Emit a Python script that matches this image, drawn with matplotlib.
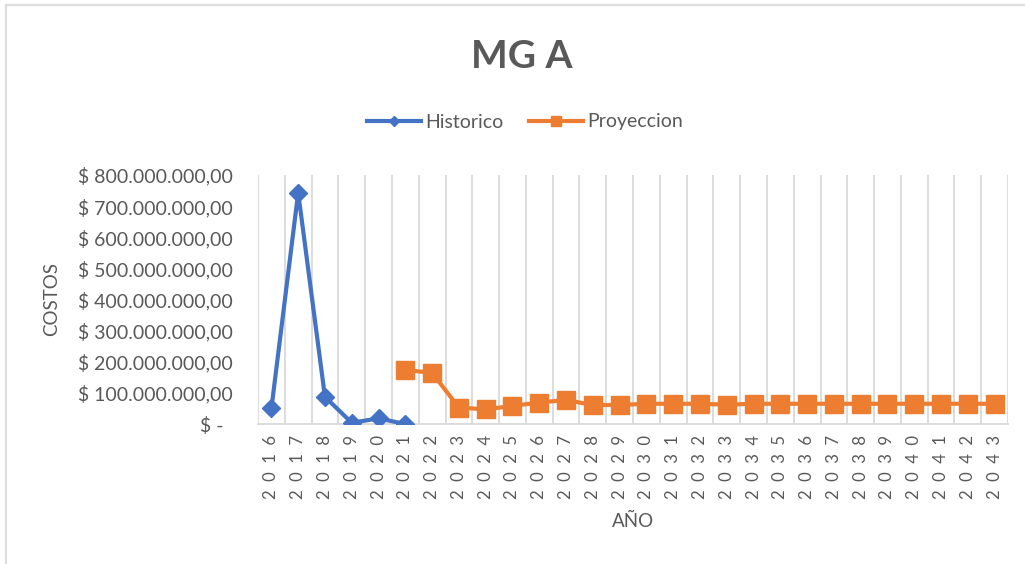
import matplotlib
matplotlib.use("Agg")
import matplotlib.pyplot as plt
from matplotlib.patches import Rectangle
from matplotlib.ticker import FuncFormatter, MultipleLocator

# Years on the category axis
years = list(range(2016, 2044))

# Historical costs (2016-2021)
historico = [50e6, 743e6, 87e6, 4e6, 18e6, 0.0]

# Projected costs (2021-2043)
proyeccion = [174e6, 164e6, 53e6, 47e6, 58e6, 69e6, 77e6, 61e6, 61e6, 65e6,
              65e6, 65e6, 62e6, 65e6, 65e6, 65e6, 65e6, 65e6, 65e6, 65e6,
              65e6, 65e6, 65e6]

TEXT = "#595959"
GRID = "#D9D9D9"
BLUE = "#4472C4"
ORANGE = "#ED7D31"

plt.rcParams["font.family"] = ["Lato", "DejaVu Sans"]

fig = plt.figure(figsize=(10.25, 5.64), dpi=100)
ax = fig.add_axes([258 / 1025, 1 - 424 / 564, 750 / 1025, 249 / 564])

x_hist = list(range(len(historico)))
x_proy = [years.index(2021) + i for i in range(len(proyeccion))]

ax.plot(x_hist, historico, color=BLUE, lw=3.0, marker="D", ms=9,
        solid_joinstyle="round", label="Historico", zorder=3)
ax.plot(x_proy, proyeccion, color=ORANGE, lw=3.0, marker="s", ms=12.5,
        solid_joinstyle="round", label="Proyeccion", zorder=3)

ax.set_xlim(-0.5, len(years) - 0.5)
ax.set_ylim(0, 800e6)
ax.yaxis.set_major_locator(MultipleLocator(100e6))


def money(v, _pos):
    if abs(v) < 1:
        return "$ -  "
    s = f"{v:,.2f}".replace(",", "X").replace(".", ",").replace("X", ".")
    return "$ " + s


ax.yaxis.set_major_formatter(FuncFormatter(money))
ax.set_xticks(range(len(years)))
ax.set_xticklabels(["  ".join(str(y)) for y in years], rotation=90,
                   fontsize=12, color=TEXT)

# vertical gridlines between categories
for b in range(len(years) + 1):
    ax.axvline(b - 0.5, color=GRID, lw=1.3, zorder=1)

for side in ["top", "right", "left"]:
    ax.spines[side].set_visible(False)
ax.spines["bottom"].set_color(GRID)
ax.spines["bottom"].set_linewidth(1.3)
ax.tick_params(axis="both", length=0)
ax.tick_params(axis="y", labelsize=14, labelcolor=TEXT, pad=18)
ax.tick_params(axis="x", pad=8)

ax.set_ylabel("COSTOS", fontsize=13.5, color=TEXT, labelpad=13)
ax.set_xlabel("AÑO", fontsize=13.5, color=TEXT, labelpad=10)

fig.text(522 / 1025, 1 - 56 / 564, "MG A", ha="center", va="center",
         fontsize=28, fontweight="bold", color=TEXT)

leg = fig.legend(loc="center", bbox_to_anchor=(525 / 1025, 1 - 122 / 564),
                 ncol=2, frameon=False, fontsize=14, handlelength=2.8,
                 handletextpad=0.2, columnspacing=1.3, markerscale=0.6)
for t in leg.get_texts():
    t.set_color(TEXT)

# outer frame of the chart area
fig.patches.append(Rectangle((6 / 1025, -0.1), 1.2, 1 - 5 / 564 + 0.1,
                             transform=fig.transFigure, fill=False,
                             edgecolor="#DDDDDD", lw=1.6))

fig.savefig("out.png", dpi=100, facecolor="white")
